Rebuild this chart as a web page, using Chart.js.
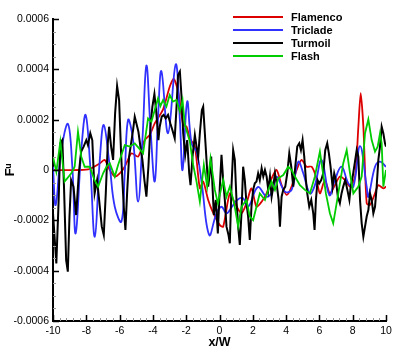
<!DOCTYPE html>
<html>
<head>
<meta charset="utf-8">
<script src="https://cdn.jsdelivr.net/npm/chart.js@4.4.1/dist/chart.umd.min.js"></script>
<style>
  html, body { margin: 0; padding: 0; background: #fff; }
  #wrap { width: 407px; height: 362px; position: relative; }
</style>
</head>
<body>
<div id="wrap"><canvas id="c"></canvas></div>
<script>
// ---- data ----
const seriesNames = ['Flamenco', 'Triclade', 'Turmoil', 'Flash'];

const flamencoX = [-10,-8.4,-7.8,-7.19,-6.89,-6.59,-6.29,-5.99,-5.69,-5.29,-4.89,-4.49,-4.19,-3.89,-3.39,-2.99,-2.75,-2.48,-2.18,-1.98,-1.78,-1.48,-1.18,-0.98,-0.68,-0.4,0.02,0.22,0.62,0.92,1.32,1.62,1.92,2.22,2.53,2.83,3.13,3.43,3.73,4.03,4.33,4.63,4.93,5.23,5.53,5.79,6.03,6.33,6.63,6.93,7.23,7.54,7.84,8.14,8.34,8.48,8.64,8.84,9.04,9.34,9.54,9.84,10];
const flamencoY = [0,0,0.000004,0.000026,0.00004,0,-0.000026,-0.000013,0.000013,0.000066,0.000053,0.000119,0.000139,0.000185,0.000241,0.000331,0.000362,0.000311,0.000179,0.000172,0.000126,0.000093,-0.000073,-0.000046,-0.000119,-0.000167,-0.000219,-0.000225,-0.000093,-0.000132,-0.000172,-0.000132,-0.000073,-0.000146,-0.000126,-0.000093,-0.000033,0,-0.00006,-0.000099,-0.000066,0,0.00004,0.000013,0.000013,-0.000026,-0.000093,-0.00004,-0.000093,-0.00006,-0.000026,-0.00004,-0.000066,-0.000026,0.000172,0.000305,0.000172,-0.000132,-0.000139,-0.000093,-0.00006,-0.000073,-0.000066];

const tricladeX = [-10,-9.84,-9.5,-9.1,-8.84,-8.64,-8.3,-8.04,-7.76,-7.49,-7.19,-6.95,-6.59,-6.29,-5.89,-5.69,-5.49,-5.19,-4.89,-4.63,-4.39,-4.15,-3.89,-3.69,-3.49,-3.09,-2.63,-2.38,-2.22,-1.94,-1.68,-1.38,-1.08,-0.62,-0.18,0.12,0.42,0.74,1.06,1.4,1.72,2.3,2.83,3.15,3.43,3.93,4.33,4.73,5.03,5.43,5.73,6.13,6.6,6.93,7.33,7.74,8.04,8.44,8.84,8.94,9.34,9.64,10];
const tricladeY = [0.000013,-0.000139,0.000079,0.000183,0.000013,-0.000252,0.000079,0.000219,0.000013,-0.000265,0.00004,0.000179,0.000013,-0.000146,-0.000205,-0.000013,0.000199,0.000119,-0.000126,0.000119,0.000415,0.000172,-0.000046,0.000212,0.000393,0.000146,0.00042,0.000199,0,0.000272,0.000106,0.000073,-0.000046,-0.000258,-0.000172,-0.000146,-0.000172,-0.000147,-0.000119,-0.000111,-0.000146,-0.000068,-0.000106,-0.000087,-0.000026,-0.000086,-0.000079,0.000033,-0.000013,-0.000093,-0.00006,0.00004,-0.0001,-0.00004,0.000013,-0.000053,-0.000066,0.000095,-0.000066,-0.000106,0.000013,0.000033,0.000013];

const turmoilX = [
  -10,-9.8,-9.66,-9.56,-9.44,-9.34,-9.21,-9.11,-9.01,-8.91,
  -8.77,-8.61,-8.45,-8.31,-8.16,-8,-7.9,-7.76,-7.64,-7.5,
  -7.35,-7.23,-7.07,-6.95,-6.83,-6.71,-6.63,-6.51,-6.39,-6.27,
  -6.15,-6.03,-5.91,-5.83,-5.75,-5.65,-5.55,-5.43,-5.31,-5.19,
  -5.09,-4.99,-4.87,-4.75,-4.63,-4.51,-4.39,-4.27,-4.15,-4.03,
  -3.91,-3.79,-3.67,-3.59,-3.47,-3.35,-3.23,-3.09,-2.95,-2.83,
  -2.69,-2.59,-2.49,-2.38,-2.28,-2.18,-2.06,-1.94,-1.82,-1.74,
  -1.62,-1.48,-1.38,-1.28,-1.18,-1.06,-0.98,-0.88,-0.78,-0.68,
  -0.58,-0.5,-0.42,-0.34,-0.22,-0.1,0.02,0.12,0.22,0.32,
  0.42,0.54,0.62,0.72,0.82,0.92,1.02,1.12,1.22,1.32,
  1.42,1.52,1.62,1.72,1.82,1.92,2.02,2.12,2.22,2.32,
  2.42,2.53,2.63,2.73,2.83,2.93,3.03,3.13,3.23,3.33,
  3.43,3.55,3.63,3.73,3.83,3.95,4.07,4.19,4.31,4.43,
  4.55,4.67,4.79,4.89,4.99,5.09,5.19,5.27,5.39,5.51,
  5.63,5.71,5.79,5.89,5.99,6.11,6.23,6.35,6.47,6.57,
  6.67,6.79,6.89,6.99,7.11,7.23,7.33,7.43,7.55,7.68,
  7.8,7.88,8,8.12,8.24,8.34,8.44,8.54,8.64,8.74,
  8.84,8.94,9.04,9.14,9.24,9.34,9.44,9.54,9.64,9.74,
  9.84,9.94,10];
const turmoilY = [
  -0.000172,-0.000371,-0.000119,0.000106,0.000119,-0.000066,-0.000358,-0.000404,-0.000185,-0.00004,
  -0.000066,-0.000179,-0.000013,0.000073,0.000093,0.000119,0.000099,0.000146,0.000119,-0.000093,
  -0.00004,-0.000119,-0.000225,-0.000258,-0.000093,0.000106,0.000172,0.000093,0.00004,0.000225,
  0.000334,0.000278,0.000066,-0.000046,-0.000146,-0.000238,-0.000093,0.000053,0.000106,0.000159,
  0.000212,0.000185,0.000152,0.000093,0.00004,-0.00004,-0.000106,0.000013,0.000172,0.000252,
  0.000302,0.000225,0.000119,0.000172,0.000212,0.000219,0.000205,0.000219,0.000185,0.000159,
  0.000126,0.000238,0.000377,0.000391,0.000291,0.000146,0.00006,0.000119,-0.000013,-0.00006,
  0.000053,0.000139,0.000093,0.000053,0.000146,0.000238,0.000252,0.000146,0.00004,-0.000066,
  -0.000013,0.000053,-0.000066,-0.000179,-0.000119,-0.000252,-0.000066,0.00006,-0.00004,-0.000119,
  -0.000225,-0.000258,-0.000291,-0.000066,0.000079,0.00004,-0.000119,-0.000225,-0.000298,-0.000172,
  0.000013,-0.00004,-0.000132,-0.000185,-0.000278,-0.000146,-0.000079,-0.000053,-0.000046,-0.000013,
  -0.00004,0.000007,-0.000026,0,-0.000026,-0.000079,-0.000026,-0.000106,-0.000066,-0.000013,
  -0.000053,-0.000119,-0.000225,-0.000106,-0.000079,-0.000066,-0.000013,0.000066,0.000013,-0.000066,
  0.000013,0.000093,0.000106,0.000079,0.000119,0.000053,-0.00004,-0.000093,-0.000146,-0.000119,
  -0.000172,-0.000238,-0.000119,-0.00004,-0.000053,-0.00004,-0.000013,0.000079,0.000106,0.000066,
  0.000013,-0.000066,-0.000013,-0.00004,-0.000106,-0.000132,-0.000093,-0.000066,-0.00004,-0.000079,
  -0.000119,-0.000066,-0.000026,0.000026,0.000079,0.000053,-0.000119,-0.000212,-0.000265,-0.000225,
  -0.000185,-0.000159,-0.000093,-0.000119,-0.000172,-0.000146,-0.000066,0.00004,0.000093,0.000172,
  0.000146,0.000106,0.000093];

const flashX = [-10,-9.8,-9.56,-9.3,-8.9,-8.7,-8.5,-8.3,-8.1,-7.8,-7.5,-7.29,-6.99,-6.79,-6.59,-6.29,-6.09,-5.69,-5.39,-5.09,-4.83,-4.59,-4.29,-4.09,-3.89,-3.69,-3.55,-3.39,-3.19,-2.99,-2.79,-2.59,-2.38,-2.22,-2.08,-1.78,-1.58,-1.38,-1.18,-0.94,-0.74,-0.54,-0.28,-0.1,0.22,0.42,0.62,0.88,1.12,1.32,1.62,1.82,2.02,2.22,2.42,2.73,2.93,3.13,3.33,3.53,3.83,4.13,4.33,4.53,4.83,5.13,5.43,5.73,6.03,6.19,6.39,6.63,6.83,7.07,7.43,7.64,7.84,8.04,8.34,8.54,8.74,8.94,9.14,9.34,9.5,9.64,9.74,9.84,10];
const flashY = [0.000053,-0.000007,0.000113,-0.000046,-0.000013,0.000013,0.000152,0.000053,0.000013,0.000013,-0.00004,-0.000066,-0.000013,0.000013,0.000026,-0.000026,0.00002,0.000099,0.000093,0.000106,0.000086,0.000066,0.000205,0.000192,0.000238,0.000285,0.000254,0.000278,0.000252,0.000298,0.000272,0.000278,0.000232,0.000278,0.000179,0.000113,0.00002,-0.000046,-0.000126,0.00002,-0.000066,0.000046,-0.000079,-0.000132,-0.00004,-0.000106,-0.000066,-0.000132,-0.000225,-0.000146,-0.000119,-0.000185,-0.000199,-0.000146,-0.000093,-0.000119,-0.000079,-0.000046,-0.000079,-0.000033,-0.00002,0.000013,0,-0.000026,-0.00006,-0.000079,-0.000093,-0.000026,0.000073,0,-0.000093,-0.000172,-0.000212,-0.000119,0.000026,0.000079,-0.000013,-0.000093,-0.000066,-0.000026,0.000146,0.000201,0.000119,0.000073,0.000093,0.000146,0.000106,-0.000066,0];

// axis ranges / tick steps
const xRange = [-10, 10], xStep = 2, xMinorStep = 0.4;
const yRange = [-0.0006, 0.0006], yStep = 0.0002, yMinorStep = 0.00005;

// ---- chart ----
const FONT = "'Liberation Sans', Arial, Helvetica, sans-serif";
function pts(xs, ys) {
  const n = Math.min(xs.length, ys.length), out = [];
  for (let i = 0; i < n; i++) out.push({ x: xs[i], y: ys[i] });
  return out;
}
const colors = ['#dd0000', '#3030ff', '#000000', '#00cc00'];
const seriesData = [pts(flamencoX, flamencoY), pts(tricladeX, tricladeY), pts(turmoilX, turmoilY), pts(flashX, flashY)];
const tensions = [0.25, 0.4, 0, 0];
const widths = [1.8, 1.8, 2, 1.8];
const orders = [4, 3, 2, 1];

const tickPlugin = {
  id: 'innerTicks',
  afterDatasetsDraw(chart) {
    const { ctx, chartArea: a, scales: { x, y } } = chart;
    ctx.save();
    const drawX = (step, len, col, w) => {
      ctx.strokeStyle = col; ctx.lineWidth = w; ctx.beginPath();
      const n = Math.round((xRange[1] - xRange[0]) / step);
      for (let i = 0; i <= n; i++) {
        const v = xRange[0] + i * step;
        const px = Math.round(x.getPixelForValue(v)) + 0.5;
        ctx.moveTo(px, a.bottom); ctx.lineTo(px, a.bottom - len);
      }
      ctx.stroke();
    };
    const drawY = (step, len, col, w) => {
      ctx.strokeStyle = col; ctx.lineWidth = w; ctx.beginPath();
      const n = Math.round((yRange[1] - yRange[0]) / step);
      for (let i = 0; i <= n; i++) {
        const v = yRange[0] + i * step;
        const py = Math.round(y.getPixelForValue(v)) + 0.5;
        ctx.moveTo(a.left, py); ctx.lineTo(a.left + len, py);
      }
      ctx.stroke();
    };
    drawX(xMinorStep, 3, '#999', 1);
    drawY(yMinorStep, 3, '#999', 1);
    drawX(xStep, 6, '#000', 1.5);
    drawY(yStep, 6, '#000', 1.5);
    ctx.restore();
  }
};

const legendPlugin = {
  id: 'boxLegend',
  afterDraw(chart) {
    const { ctx } = chart;
    ctx.save();
    ctx.font = "bold 11px " + FONT;
    ctx.textBaseline = 'middle';
    ctx.textAlign = 'left';
    chart.data.datasets.forEach((ds, i) => {
      const yy = 17 + i * 13;
      ctx.strokeStyle = ds.borderColor; ctx.lineWidth = 1.8;
      ctx.beginPath(); ctx.moveTo(233, yy); ctx.lineTo(283, yy); ctx.stroke();
      ctx.fillStyle = '#000';
      ctx.fillText(ds.label, 291, yy + 0.5);
    });
    ctx.restore();
  }
};

new Chart(document.getElementById('c'), {
  type: 'line',
  data: {
    datasets: seriesNames.map((name, i) => ({
      label: name,
      data: seriesData[i],
      borderColor: colors[i],
      backgroundColor: colors[i],
      borderWidth: widths[i],
      pointRadius: 0,
      tension: tensions[i],
      fill: false,
      order: orders[i]
    }))
  },
  options: {
    responsive: true,
    maintainAspectRatio: false,
    animation: false,
    layout: { padding: { left: 0, top: 19, right: 21, bottom: 0 } },
    plugins: { legend: { display: false }, tooltip: { enabled: false } },
    scales: {
      x: {
        type: 'linear', min: xRange[0], max: xRange[1],
        grid: { display: false, drawTicks: false },
        border: { display: true, color: '#000', width: 2 },
        ticks: {
          stepSize: xStep, padding: 4, color: '#000', maxRotation: 0,
          font: { family: FONT, size: 10.5 },
          callback: v => String(Math.round(v))
        },
        title: { display: true, text: 'x/W', color: '#000',
          font: { family: FONT, size: 12.5, weight: 'bold' }, padding: { top: 0, bottom: 12 } },
        afterFit: s => { s.height = 41; }
      },
      y: {
        type: 'linear', min: yRange[0], max: yRange[1],
        grid: { display: false, drawTicks: false },
        border: { display: true, color: '#000', width: 2 },
        ticks: {
          stepSize: yStep, padding: 4, color: '#000',
          font: { family: FONT, size: 10.5 },
          callback: v => Math.abs(v) < 1e-12 ? '0' : v.toFixed(4)
        },
        title: { display: true, text: 'Fᵘ', color: '#000',
          font: { family: FONT, size: 13, weight: 'bold' }, padding: { top: 3, bottom: 0 } },
        afterFit: s => { s.width = 53; }
      }
    }
  },
  plugins: [tickPlugin, legendPlugin]
});
</script>
</body>
</html>
